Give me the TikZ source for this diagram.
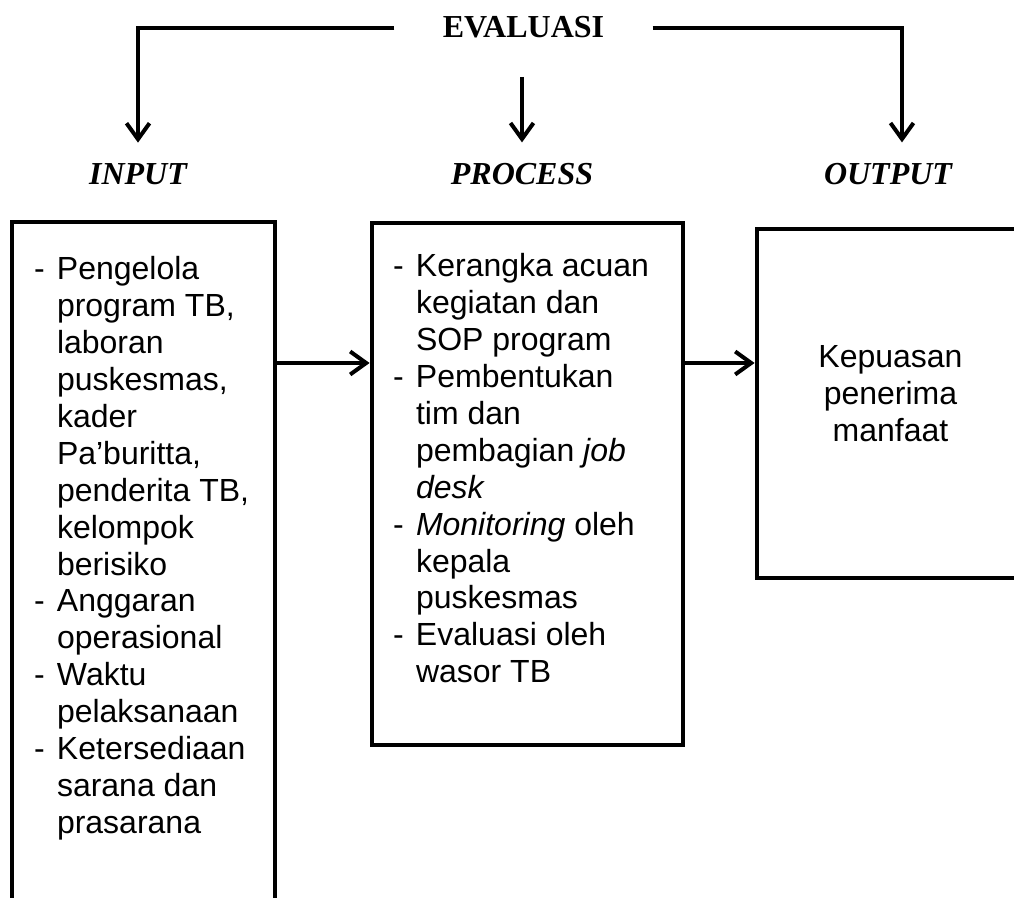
\documentclass[tikz,border=0pt]{standalone}
\usepackage{fontspec}
\setmainfont{Liberation Serif}
\newfontfamily\arialfont{Liberation Sans}
\usetikzlibrary{positioning, arrows.meta}

\begin{document}
\begin{tikzpicture}[
    x=0.5pt, y=-0.5pt,
    box/.style={rectangle, draw, line width=2.4pt, inner sep=0pt},
    listtext/.style={inner sep=0pt, anchor=north west, font=\arialfont\fontsize{16}{18.45}\selectfont},
    phase/.style={font=\bfseries\itshape\fontsize{16}{19}\selectfont, inner xsep=0pt, inner ysep=10.5pt, anchor=base},
    arrow/.style={draw, line width=2pt, -{Straight Barb[length=8pt, width=11.5pt]}}
  ]
  % --- Page frame ---
  \useasboundingbox (0,0) rectangle (1014,898);
  \clip (0,0) rectangle (1014,898);

  % --- Place the three boxes ---
  \node[box, minimum width=131.5pt, minimum height=349pt] (input) at (143.5,571) {};
  \node[box, minimum width=155.5pt, minimum height=261pt] (process) at (527.5,484) {};
  \node[box, minimum width=133.5pt, minimum height=174.5pt] (output) at (890.5,403.5) {};

  % --- Headings ---
  \node[font=\bfseries\fontsize{16}{19}\selectfont, inner xsep=24pt, inner ysep=19pt, anchor=base] (evaluasi) at (523.5,38) {EVALUASI};
  \node[phase] (inputlabel) at (138,185) {INPUT};
  \node[phase] (processlabel) at (522,185) {PROCESS};
  \node[phase] (outputlabel) at (888,185) {OUTPUT};

  % --- Box contents ---
  \node[listtext] (inputtext) at ([shift={(24,34)}]input.north west) {%
    \begin{tabular}{@{}p{11.5pt}@{}l@{}}
      - & Pengelola\\
        & program TB,\\
        & laboran\\
        & puskesmas,\\
        & kader\\
        & Pa’buritta,\\
        & penderita TB,\\
        & kelompok\\
        & berisiko\\
      - & Anggaran\\
        & operasional\\
      - & Waktu\\
        & pelaksanaan\\
      - & Ketersediaan\\
        & sarana dan\\
        & prasarana
    \end{tabular}};
  \node[listtext] (processtext) at ([shift={(23,30)}]process.north west) {%
    \begin{tabular}{@{}p{11.5pt}@{}l@{}}
      - & Kerangka acuan\\
        & kegiatan dan\\
        & SOP program\\
      - & Pembentukan\\
        & tim dan\\
        & pembagian \textit{job}\\
        & \textit{desk}\\
      - & \textit{Monitoring} oleh\\
        & kepala\\
        & puskesmas\\
      - & Evaluasi oleh\\
        & wasor TB
    \end{tabular}};
  \node[listtext, anchor=center] (outputtext) at ([shift={(0,-6)}]output.center) {%
    \begin{tabular}{@{}c@{}}
      Kepuasan\\
      penerima\\
      manfaat
    \end{tabular}};

  % --- Evaluation arrows ---
  \draw[arrow] (evaluasi.west) -| (inputlabel.north);
  \draw[arrow] (evaluasi.south -| processlabel.north) -- (processlabel.north);
  \draw[arrow] (evaluasi.east) -| ([xshift=7pt]outputlabel.north);

  % --- Flow between the boxes ---
  \coordinate (flow) at (0,363);
  \draw[arrow] (input.east |- flow) -- (process.west |- flow);
  \draw[arrow] (process.east |- flow) -- (output.west |- flow);
\end{tikzpicture}
\end{document}
